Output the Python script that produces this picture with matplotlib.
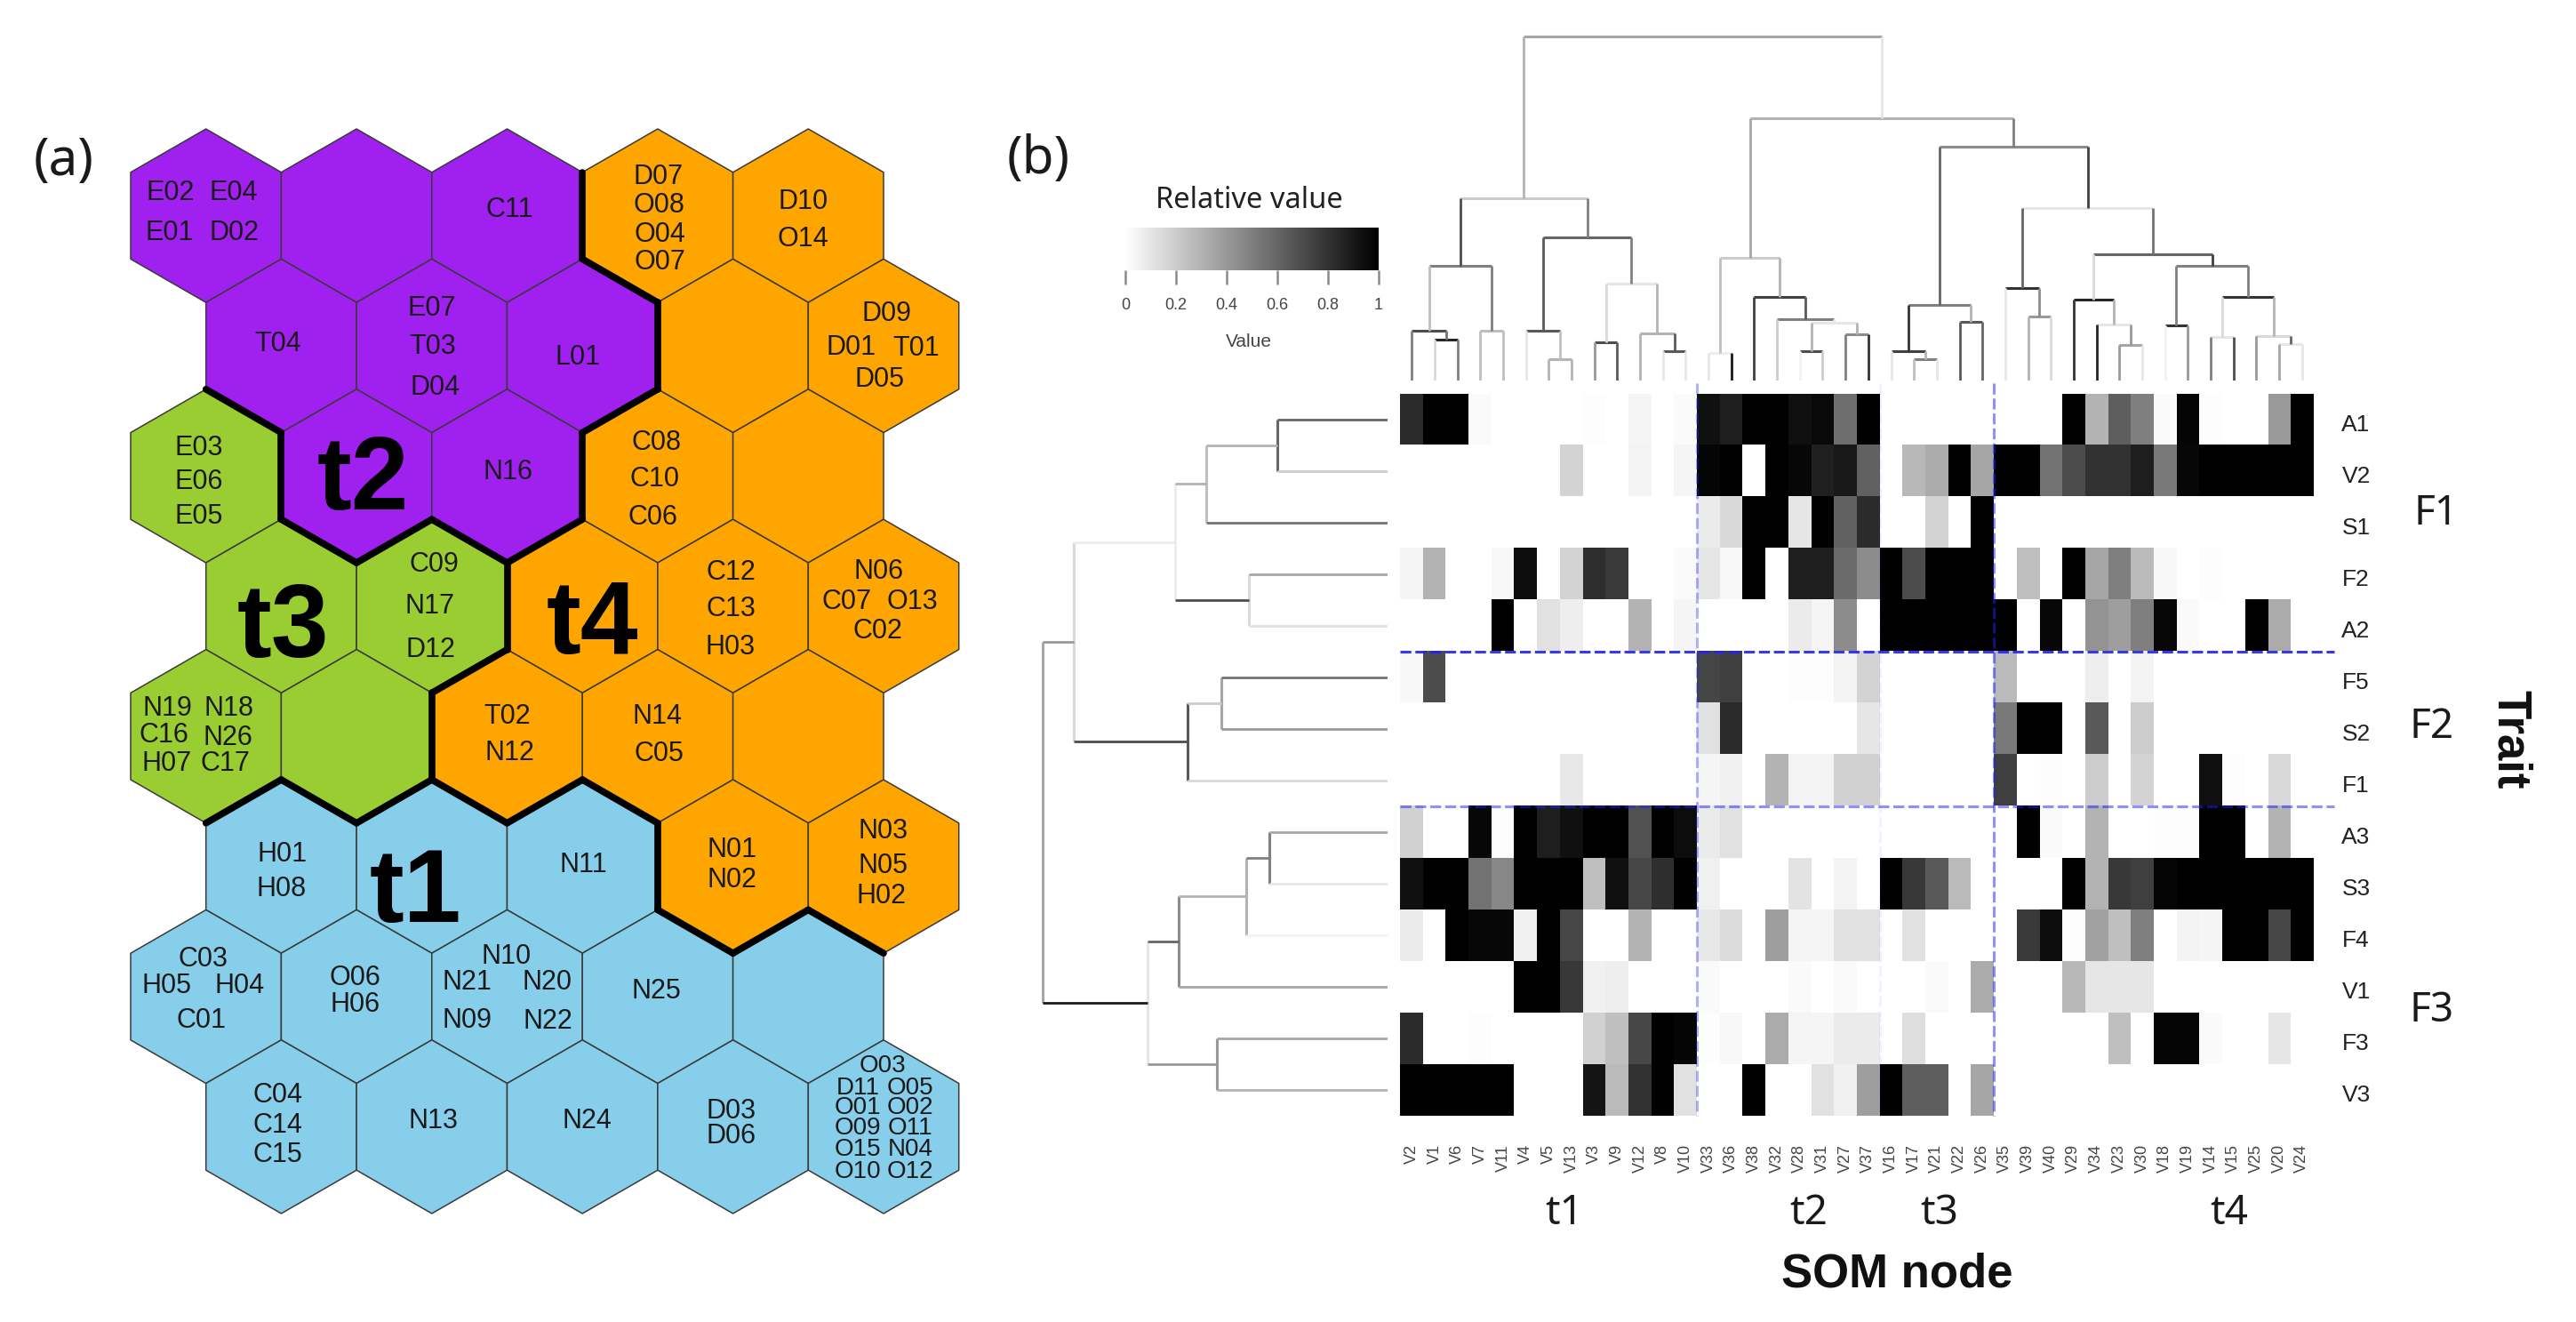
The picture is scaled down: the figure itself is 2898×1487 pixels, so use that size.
import numpy as np
import matplotlib
matplotlib.use('Agg')
import matplotlib.pyplot as plt
from matplotlib.collections import PolyCollection, LineCollection
from matplotlib.colors import LinearSegmentedColormap
from matplotlib.transforms import ScaledTranslation

W, H = 2898, 1487

# ---------- data (a) SOM map
som_rows = ["PPPOO", "PPPOO", "GPPOO", "GGOOO", "GGOOO", "BBBOO", "BBBBB", "BBBBB"]
som_colors = {"P": "#A020F0", "O": "#FFA500", "G": "#9ACD32", "B": "#87CEEB"}

som_names = ["E02", "E04", "E01", "D02", "C11", "D07", "O08", "O04", "O07", "D10", "O14",
             "T04", "E07", "T03", "D04", "L01", "D09", "D01", "T01", "D05",
             "E03", "E06", "E05", "N16", "C08", "C10", "C06",
             "C09", "N17", "D12", "C12", "C13", "H03", "N06", "C07", "O13", "C02",
             "N19", "N18", "C16", "N26", "H07", "C17", "T02", "N12", "N14", "C05",
             "H01", "H08", "N11", "N01", "N02", "N03", "N05", "H02",
             "C03", "H05", "H04", "C01", "O06", "H06", "N10", "N21", "N20", "N09", "N22", "N25",
             "C04", "C14", "C15", "N13", "N24", "D03", "D06"]
som_name_x = [192, 263, 191, 263, 573, 741, 741, 742, 742, 904, 903,
              313, 486, 487, 490, 650, 997, 958, 1031, 989,
              224, 224, 224, 571, 739, 737, 735,
              488, 484, 484, 822, 822, 822, 989, 953, 1026, 987,
              188, 258, 184, 256, 188, 253, 571, 573, 739, 741,
              318, 317, 656, 824, 824, 994, 994, 992,
              229, 188, 270, 227, 399, 400, 570, 525, 616, 525, 616, 738,
              313, 312, 312, 488, 660, 823, 823]
som_name_y = [217, 217, 262, 262, 236, 199, 231, 264, 295, 227, 269,
              387, 347, 390, 436, 402, 353, 391, 392, 427,
              504, 542, 581, 531, 498, 539, 582,
              635, 682, 731, 644, 685, 728, 643, 677, 677, 710,
              797, 797, 827, 830, 859, 859, 806, 847, 806, 848,
              961, 1000, 973, 956, 990, 935, 974, 1008,
              1079, 1109, 1109, 1148, 1100, 1130, 1076, 1105, 1105, 1148, 1149, 1115,
              1232, 1266, 1299, 1261, 1261, 1250, 1278]
# the crowded last cell has smaller text
small_names = ["O03", "D11", "O05", "O01", "O02", "O09", "O11", "O15", "N04", "O10", "O12"]
small_x = [993, 965, 1024, 965, 1024, 965, 1024, 965, 1024, 965, 1024]
small_y = [1199, 1224, 1224, 1246, 1246, 1269, 1269, 1293, 1293, 1318, 1318]

cluster_names = ["t1", "t2", "t3", "t4"]
cluster_x = [467, 408, 318, 666]
cluster_y = [1006, 543, 708, 704]

# ---------- data (b) heatmap
traits = ["A1", "V2", "S1", "F2", "A2", "F5", "S2", "F1", "A3", "S3", "F4", "V1", "F3", "V3"]
nodes = ["V2", "V1", "V6", "V7", "V11", "V4", "V5", "V13", "V3", "V9", "V12", "V8", "V10",
         "V33", "V36", "V38", "V32", "V28", "V31", "V27", "V37",
         "V16", "V17", "V21", "V22", "V26",
         "V35", "V39", "V40", "V29", "V34", "V23", "V30", "V18", "V19", "V14", "V15", "V25", "V20", "V24"]

A1 = [.83,1,1,.02,0,0,0,0,.01,0,.04,0,.02, .93,.88,1,1,.93,.96,.57,1, 0,0,0,0,0, 0,0,0,1,.3,.63,.5,.02,.98,.01,0,0,.4,1]
V2 = [0,0,0,0,0,0,0,.17,0,0,.05,0,.04, .98,1,0,1,.97,.87,.9,.62, 0,.28,.33,1,.35, 1,1,.55,.7,.8,.8,.88,.52,.97,1,1,1,1,1]
S1 = [0,0,0,0,0,0,0,0,0,0,0,0,0, .08,.15,1,1,.1,1,.62,.83, 0,0,.17,0,1, 0,0,0,0,0,0,0,0,0,0,0,0,0,0]
F2 = [.04,.3,0,0,.03,.95,0,.17,.82,.77,0,0,.02, .1,.03,1,0,.88,.88,.58,.45, 1,.7,1,1,1, 0,.25,0,1,.35,.5,.27,.03,0,.01,0,0,0,0]
A2 = [0,0,0,0,1,0,.12,.07,0,0,.3,0,.04, 0,0,0,0,.08,.04,.45,0, 1,1,1,1,1, 1,0,.97,0,.42,.38,.5,.97,.02,0,0,1,.33,0]
F5 = [.03,.7,0,0,0,0,0,0,0,0,0,0,0, .73,.75,0,0,.01,.01,.05,.17, 0,0,0,0,0, .27,0,0,0,.07,0,.05,0,0,0,0,0,0,0]
S2 = [0,0,0,0,0,0,0,0,0,0,0,0,0, .12,.83,0,0,0,0,0,.1, 0,0,0,0,0, .52,1,1,0,.65,0,.2,0,0,0,0,0,0,0]
F1 = [0,0,0,0,0,0,0,.09,0,0,0,0,0, .04,.06,0,.3,.05,.05,.18,.18, 0,0,0,0,0, .75,0,.01,0,.2,0,.17,0,0,.93,.01,0,.15,0]
A3 = [.18,0,0,.97,.01,1,.88,.93,1,1,.68,1,.95, .08,.12,0,0,0,0,0,0, 0,0,0,0,0, 0,1,.02,0,.3,0,0,.01,.01,1,1,0,.3,0]
S3 = [.93,1,1,.55,.47,1,1,1,.25,.93,.72,.82,1, .06,0,0,0,.11,0,.05,0, 1,.78,.65,.27,0, 0,0,0,1,.3,.78,.75,.98,1,1,1,1,1,1]
F4 = [.08,0,1,.97,.97,.06,1,.72,0,0,.3,0,0, .09,.14,0,.38,.04,.04,.12,.12, 0,.12,0,0,0, 0,.77,.95,.01,.37,.25,.5,0,.05,.04,1,1,.72,1]
V1 = [0,0,0,0,0,1,1,.78,.06,.07,0,0,0, .02,0,0,0,.02,0,.02,0, 0,0,.02,0,.33, 0,0,0,.28,.1,.1,.1,0,0,0,0,0,0,0]
F3 = [.83,0,0,.01,0,0,0,0,.18,.25,.72,1,.98, .01,.03,0,.33,.04,.04,.08,.08, 0,.13,0,0,0, 0,0,0,0,0,.25,0,.98,.98,.02,0,0,.1,0]
V3 = [1,1,1,1,1,0,0,0,.92,.27,.8,1,.12, 0,0,1,0,0,.12,.06,.38, 1,.63,.63,0,.35, 0,0,0,0,0,0,0,0,0,0,0,0,0,0]
heat = [A1, V2, S1, F2, A2, F5, S2, F1, A3, S3, F4, V1, F3, V3]

# ---------- data (b) dendrograms: ids below n are leaves, n+k is merge k
top_a = [1, 0, 3, 41, 6, 5, 8, 11, 10, 46, 45, 43, 13, 17, 19, 53, 16, 15, 52, 22, 21, 24, 60, 27, 26, 31, 30, 29, 33, 35, 38, 37, 69, 68, 67, 64, 62, 58, 51]
top_b = [2, 40, 4, 42, 7, 44, 9, 12, 47, 48, 49, 50, 14, 18, 20, 54, 55, 56, 57, 23, 59, 25, 61, 28, 63, 32, 65, 66, 34, 36, 39, 70, 71, 72, 73, 74, 75, 76, 77]
top_h = [46, 56, 56, 129, 24, 56, 43, 33, 53, 109, 161, 205, 31, 33, 52, 65, 69, 94, 138, 24, 33, 66, 85, 72, 104, 40, 63, 91, 62, 49, 41, 50, 94, 129, 142, 194, 263, 295, 387]
# darkness of bar, left stem, right stem
top_dark_bar = [.85, .7, .25, .5, .3, .65, .7, .65, .3, .1, .6, .2, .07, .7, .45, .1, .5, .75, .2, .5, .75, .65, .5, .4, .8, .35, .1, .85, .8, .1, .1, .15, .8, .5, .6, .1, .45, .3, .35]
top_dark_l = [.15, .5, .25, .25, .3, .1, .4, .1, .3, .15, .65, .7, .1, .05, .5, .3, .2, .75, .25, .25, .1, .65, .8, .3, .1, .4, .85, .8, .05, .5, .35, .4, .15, .5, .15, .6, .6, .35, .3]
top_dark_r = [.5, .55, .25, .5, .3, .25, .65, .1, .65, .3, .5, .5, .9, .2, .8, .3, .1, .65, .3, .1, .3, .6, .3, .15, .45, .1, .4, .3, .4, .7, .1, .6, .3, .5, .75, .55, .75, .5, .1]

left_a = [0, 14, 3, 15, 5, 18, 17, 8, 21, 22, 12, 23, 20]
left_b = [1, 2, 4, 16, 6, 7, 19, 9, 10, 11, 13, 24, 25]
left_h = [124, 204, 156, 239, 187, 225, 353, 133, 159, 235, 192, 270, 388]
left_dark_stem = [.6, .25, .15, .07, .35, .65, .15, .5, .3, .45, .4, .1, .35]
left_dark_a = [.6, .3, .35, .3, .55, .2, .07, .35, .5, .3, .35, .6, .4]
left_dark_b = [.2, .55, .12, .7, .4, .15, .7, .1, .05, .35, .3, .4, .9]

value_ticks = [0, 0.2, 0.4, 0.6, 0.8, 1]
value_tick_labels = ["0", "0.2", "0.4", "0.6", "0.8", "1"]

sans = ["Noto Sans", "DejaVu Sans"]
arial = ["Liberation Sans", "DejaVu Sans"]
heavy = ["Liberation Sans", "DejaVu Sans"]


def px_axes(fig, x0, y0, x1, y1):
    # axes box given in image pixels, y going down
    ax = fig.add_axes([x0 / W, 1 - y1 / H, (x1 - x0) / W, (y1 - y0) / H])
    ax.patch.set_alpha(0)
    return ax


def gray(d):
    return str(round(1 - d, 3))


fig = plt.figure(figsize=(W / 100, H / 100), dpi=100, facecolor='white')

page = px_axes(fig, 0, 0, W, H)
page.set_xlim(0, W)
page.set_ylim(H, 0)
page.axis('off')

# ---------- hex map
hex_w = 169.4
hex_r = 97.6
row_step = 146.4
polys, fills = [], []
edges = {}
for r, row in enumerate(som_rows):
    for c, key in enumerate(row):
        cx = 147 + hex_w / 2 + c * hex_w + (hex_w / 2 if r % 2 else 0)
        cy = 242.6 + r * row_step
        verts = [(cx, cy - hex_r), (cx + hex_w / 2, cy - hex_r / 2), (cx + hex_w / 2, cy + hex_r / 2),
                 (cx, cy + hex_r), (cx - hex_w / 2, cy + hex_r / 2), (cx - hex_w / 2, cy - hex_r / 2)]
        polys.append(verts)
        fills.append(som_colors[key])
        for i in range(6):
            p, q = verts[i], verts[(i + 1) % 6]
            k = tuple(sorted([(round(p[0], 1), round(p[1], 1)), (round(q[0], 1), round(q[1], 1))]))
            edges.setdefault(k, []).append(key)

page.add_collection(PolyCollection(polys, facecolors=fills, edgecolors='#3a3a3a', linewidths=1.1, zorder=1))
thick = [k for k, v in edges.items() if len(v) == 2 and v[0] != v[1]]
page.add_collection(LineCollection(thick, colors='black', linewidths=5.5, capstyle='round', zorder=2))

for name, x, y in zip(som_names, som_name_x, som_name_y):
    page.text(x, y, name, fontsize=22, family=arial, color='#1a1a1a', ha='center', va='center', zorder=3)
for name, x, y in zip(small_names, small_x, small_y):
    page.text(x, y, name, fontsize=20, family=arial, color='#1a1a1a', ha='center', va='center', zorder=3)
for name, x, y in zip(cluster_names, cluster_x, cluster_y):
    page.text(x, y, name, fontsize=84, family=heavy, fontweight='bold', color='black', ha='center', va='center', zorder=3)

page.text(72, 182, "(a)", fontsize=42, family=sans, color='#1a1a1a', ha='center', va='center')
page.text(1168, 180, "(b)", fontsize=42, family=sans, color='#1a1a1a', ha='center', va='center')

# ---------- heatmap
heat_left, heat_right = 1575.5, 2602.5
heat_top, heat_bottom = 442.7, 1255
white_black = LinearSegmentedColormap.from_list('wb', ['white', 'black'])

ax = px_axes(fig, heat_left, heat_top, heat_right, heat_bottom)
ax.imshow(np.array(heat), cmap=white_black, vmin=0, vmax=1, aspect='auto', interpolation='nearest')
for s in ax.spines.values():
    s.set_visible(False)
ax.set_xticks(range(len(nodes)))
ax.set_xticklabels(nodes, rotation=90, fontsize=13, family=arial, color='#444444', va='top')
ax.yaxis.tick_right()
ax.set_yticks(range(len(traits)))
ax.set_yticklabels(traits, fontsize=19, family=arial, color='#222222')
ax.tick_params(axis='x', length=0, pad=23)
ax.tick_params(axis='y', length=0, pad=23)
down = ScaledTranslation(0, -4 / 100, fig.dpi_scale_trans)
for lbl in ax.get_yticklabels():
    lbl.set_transform(lbl.get_transform() + down)

# dashed separators between the factor and type groups
for y, a in zip([4.5, 7.5], [.9, .5]):
    ax.plot([-0.5, 40.4], [y, y], color='#2020ff', alpha=a, lw=2.2, ls=(0, (4, 1.5)), clip_on=False)
for x, a in zip([12.5, 20.5, 25.5], [.35, .06, .5]):
    ax.plot([x, x], [-0.7, 13.5], color='#2020ff', alpha=a, lw=2.2, ls=(0, (4, 1.5)), clip_on=False)
ax.set_xlim(-0.5, 39.5)
ax.set_ylim(13.5, -0.5)

# ---------- top dendrogram
ax_top = px_axes(fig, heat_left, 0, heat_right, 428)
ax_top.axis('off')
pos = {i: float(i) for i in range(len(nodes))}
hgt = {i: 0 for i in range(len(nodes))}
for k in range(len(top_h)):
    a, b, h = top_a[k], top_b[k], top_h[k]
    ax_top.plot([pos[a], pos[b]], [h, h], color=gray(top_dark_bar[k]), lw=2.2, solid_capstyle='butt')
    ax_top.plot([pos[a], pos[a]], [hgt[a], h], color=gray(top_dark_l[k]), lw=2.0, solid_capstyle='butt')
    ax_top.plot([pos[b], pos[b]], [hgt[b], h], color=gray(top_dark_r[k]), lw=2.0, solid_capstyle='butt')
    pos[len(nodes) + k] = (pos[a] + pos[b]) / 2
    hgt[len(nodes) + k] = h
ax_top.set_xlim(-0.5, 39.5)
ax_top.set_ylim(0, 428)

# ---------- left dendrogram
ax_left = px_axes(fig, 1100, heat_top, 1560.7, heat_bottom)
ax_left.axis('off')
pos = {i: float(i) for i in range(len(traits))}
hgt = {i: 0 for i in range(len(traits))}
for k in range(len(left_h)):
    a, b, h = left_a[k], left_b[k], left_h[k]
    ax_left.plot([h, h], [pos[a], pos[b]], color=gray(left_dark_stem[k]), lw=2.2, solid_capstyle='butt')
    ax_left.plot([hgt[a], h], [pos[a], pos[a]], color=gray(left_dark_a[k]), lw=2.0, solid_capstyle='butt')
    ax_left.plot([hgt[b], h], [pos[b], pos[b]], color=gray(left_dark_b[k]), lw=2.0, solid_capstyle='butt')
    pos[len(traits) + k] = (pos[a] + pos[b]) / 2
    hgt[len(traits) + k] = h
ax_left.set_xlim(460.7, 0)
ax_left.set_ylim(13.5, -0.5)

# ---------- colour key
ax_key = px_axes(fig, 1266, 256, 1551, 304)
ax_key.imshow(np.linspace(0, 1, 256).reshape(1, -1), cmap=white_black, aspect='auto', extent=[0, 1, 0, 1])
for s in ax_key.spines.values():
    s.set_visible(False)
ax_key.set_yticks([])
ax_key.set_xticks(value_ticks)
ax_key.set_xticklabels(value_tick_labels, fontsize=13, family=arial, color='#444444')
ax_key.tick_params(axis='x', length=11.5, width=1.8, color='#8a8a8a', pad=11)
page.text(1405, 225, "Relative value", fontsize=23.5, family=sans, color='#222222', ha='center', va='center')
page.text(1405, 385, "Value", fontsize=15, family=arial, color='#444444', ha='center', va='center')

# ---------- side and bottom titles
for name, x, y in zip(["F1", "F2", "F3"], [2741, 2736, 2736], [578, 818, 1137]):
    page.text(x, y, name, fontsize=33, family=sans, color='#1a1a1a', ha='center', va='center')
for name, x in zip(cluster_names, [1760, 2035, 2182, 2508]):
    page.text(x, 1365, name, fontsize=33, family=sans, color='#1a1a1a', ha='center', va='center')
page.text(2134, 1434, "SOM node", fontsize=38, family=heavy, fontweight='bold', color='#111111', ha='center', va='center')
page.text(2824, 832, "Trait", fontsize=38, family=heavy, fontweight='bold', color='#111111', rotation=270, ha='center', va='center')

fig.savefig('out.png', dpi=100)
